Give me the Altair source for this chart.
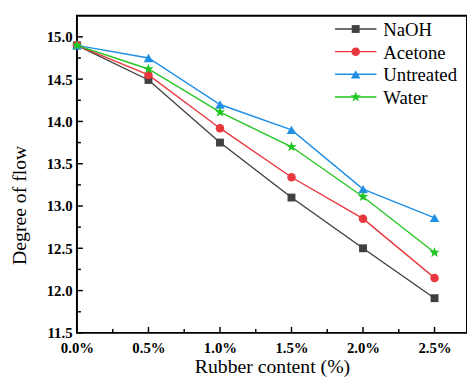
import math
import altair as alt
import pandas as pd

# ---- data ----
x_vals = [0.0, 0.5, 1.0, 1.5, 2.0, 2.5]
series_names = ["NaOH", "Acetone", "Untreated", "Water"]
naoh = [14.90, 14.49, 13.75, 13.10, 12.50, 11.91]
acetone = [14.90, 14.55, 13.92, 13.34, 12.85, 12.15]
untreated = [14.90, 14.75, 14.20, 13.90, 13.20, 12.86]
water = [14.90, 14.62, 14.11, 13.70, 13.11, 12.45]
series_values = [naoh, acetone, untreated, water]

y_major = [11.5, 12.0, 12.5, 13.0, 13.5, 14.0, 14.5, 15.0]
y_minor = [11.75, 12.25, 12.75, 13.25, 13.75, 14.25, 14.75]
x_major = [0.0, 0.5, 1.0, 1.5, 2.0, 2.5]
x_minor = [0.25, 0.75, 1.25, 1.75, 2.25]

colors = ["#404040", "#e8383d", "#1f8fe6", "#22c622"]

# star symbol path
pts = []
for k in range(10):
    r = 1.0 if k % 2 == 0 else 0.42
    a = -math.pi / 2 + k * math.pi / 5
    pts.append(f"{r*math.cos(a):.3f},{r*math.sin(a):.3f}")
star = "M" + "L".join(pts) + "Z"
shapes = ["square", "circle", "triangle-up", star]
sizes = [64, 75, 95, 120]

rows = []
for name, vals in zip(series_names, series_values):
    for xv, yv in zip(x_vals, vals):
        rows.append({"x": xv, "y": yv, "s": name})
df = pd.DataFrame(rows)

W, H = 396, 322
FONT = "Times New Roman, Liberation Serif, serif"

xscale = alt.Scale(domain=[0, 2.727], nice=False, zero=False)
yscale = alt.Scale(domain=[11.5, 15.25], nice=False, zero=False)

xaxis = alt.Axis(values=x_major, labelExpr="format(datum.value, '.1f') + '%'",
                 ticks=False, domain=False, grid=False, labelFont=FONT,
                 labelFontWeight="bold", labelFontSize=15, labelColor="black",
                 labelPadding=8, labelFlush=False, title="Rubber content (%)",
                 titleFont=FONT, titleFontSize=20, titleFontWeight="normal",
                 titleColor="black", titlePadding=1)
yaxis = alt.Axis(values=y_major, format=".1f", ticks=False, domain=False,
                 grid=False, labelFont=FONT, labelFontWeight="bold",
                 labelFontSize=15, labelColor="black", labelPadding=5,
                 labelFlush=False, title="Degree of flow", titleFont=FONT,
                 titleFontSize=20, titleFontWeight="normal", titleColor="black",
                 titleX=-58, titleY=192, titleAngle=270, titleAlign="center",
                 titleBaseline="middle")

X = lambda f: alt.X(f, scale=xscale, axis=xaxis)
Y = lambda f: alt.Y(f, scale=yscale, axis=yaxis)

layers = []
for i, name in enumerate(series_names):
    sub = df[df.s == name]
    base = alt.Chart(sub)
    layers.append(base.mark_line(color=colors[i], strokeWidth=1.4).encode(
        x=X("x:Q"), y=Y("y:Q")))
    layers.append(base.mark_point(filled=True, opacity=1, color=colors[i],
                                  shape=shapes[i], size=sizes[i]).encode(
        x=X("x:Q"), y=Y("y:Q")))

# inward ticks
ymaj = pd.DataFrame({"v": y_major})
ymin = pd.DataFrame({"v": y_minor})
xmaj = pd.DataFrame({"v": x_major})
xmin = pd.DataFrame({"v": x_minor})
layers.append(alt.Chart(ymaj).mark_rule(color="black", strokeWidth=1.5).encode(
    y=Y("v:Q"), x=alt.value(0), x2=alt.value(6)))
layers.append(alt.Chart(ymin).mark_rule(color="black", strokeWidth=1.5).encode(
    y=Y("v:Q"), x=alt.value(0), x2=alt.value(4)))
layers.append(alt.Chart(xmaj).mark_rule(color="black", strokeWidth=1.5).encode(
    x=X("v:Q"), y=alt.value(H), y2=alt.value(H - 6)))
layers.append(alt.Chart(xmin).mark_rule(color="black", strokeWidth=1.5).encode(
    x=X("v:Q"), y=alt.value(H), y2=alt.value(H - 4)))

# legend
for i, name in enumerate(series_names):
    yy = 13.5 + 23 * i
    one = alt.Chart(pd.DataFrame({"s": [name]}))
    layers.append(one.mark_rule(color=colors[i], strokeWidth=1.4).encode(
        x=alt.value(262), x2=alt.value(304), y=alt.value(yy)))
    layers.append(one.mark_point(filled=True, opacity=1, color=colors[i],
                                 shape=shapes[i], size=sizes[i]).encode(
        x=alt.value(283), y=alt.value(yy)))
    layers.append(one.mark_text(align="left", baseline="middle", font=FONT,
                                fontSize=19, color="black").encode(
        x=alt.value(311), y=alt.value(yy + 1), text="s:N"))

chart = alt.layer(*layers).properties(
    width=W, height=H,
    autosize=alt.AutoSizeParams(type="none"),
    padding={"left": 70, "top": 5, "right": 0, "bottom": 43},
    background="white",
).configure_view(stroke="black", strokeWidth=2)

chart.save("out.html", embed_options={"renderer": "svg", "actions": False})
